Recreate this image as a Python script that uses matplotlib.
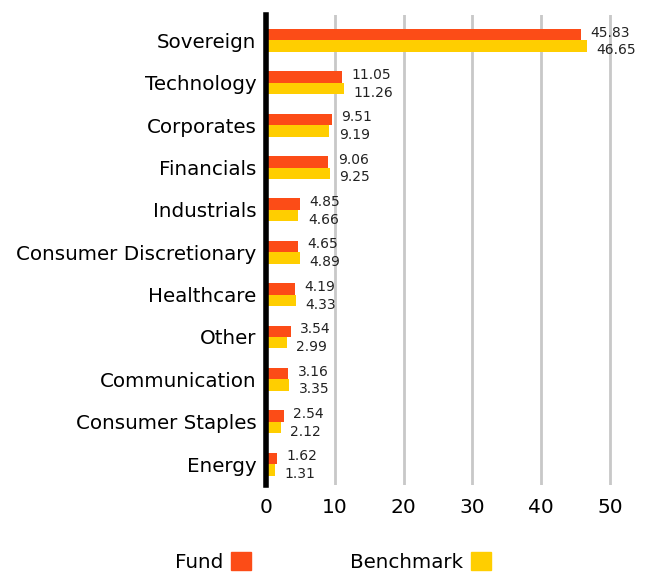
import numpy as np
import matplotlib.pyplot as plt
from matplotlib.patches import Patch

categories = ['Sovereign', 'Technology', 'Corporates', 'Financials', 'Industrials',
              'Consumer Discretionary', 'Healthcare', 'Other', 'Communication',
              'Consumer Staples', 'Energy']
fund = [45.83, 11.05, 9.51, 9.06, 4.85, 4.65, 4.19, 3.54, 3.16, 2.54, 1.62]
benchmark = [46.65, 11.26, 9.19, 9.25, 4.66, 4.89, 4.33, 2.99, 3.35, 2.12, 1.31]

fund_color = '#fc4c17'
bench_color = '#ffce00'

fig = plt.figure(figsize=(6.54, 5.77), dpi=100)
ax = fig.add_axes([0.407, 0.159, 0.578, 0.815])

y = np.arange(len(categories))
h = 0.27
ax.barh(y - h / 2, fund, height=h, color=fund_color)
ax.barh(y + h / 2, benchmark, height=h, color=bench_color)

for i in range(len(categories)):
    ax.text(fund[i] + 1.4, y[i] - h / 2 - 0.05, f'{fund[i]:.2f}', va='center',
            ha='left', fontsize=10, color='#222222')
    ax.text(benchmark[i] + 1.4, y[i] + h / 2 + 0.1, f'{benchmark[i]:.2f}', va='center',
            ha='left', fontsize=10, color='#222222')

ax.set_xlim(0, 55)
ax.set_ylim(len(categories) - 0.5, -0.6)
ax.set_yticks(y)
ax.set_yticklabels(categories, fontsize=14.3)
ax.set_xticks([0, 10, 20, 30, 40, 50])
ax.tick_params(axis='x', labelsize=14.5, length=0, pad=9)
ax.tick_params(axis='y', length=0, pad=7)
ax.grid(axis='x', color='#c8c8c8', linewidth=2)
ax.set_axisbelow(True)
for s in ['top', 'right', 'bottom']:
    ax.spines[s].set_visible(False)
ax.spines['left'].set_linewidth(4)
ax.spines['left'].set_color('black')
ax.spines['left'].set_zorder(5)

handles = [Patch(color=fund_color), Patch(color=bench_color)]
fig.legend(handles, ['Fund', 'Benchmark'], loc='lower center', ncol=2,
           bbox_to_anchor=(0.509, -0.022), frameon=False, markerfirst=False,
           fontsize=14.3, handlelength=1.0, handleheight=1.0, handletextpad=0.4,
           columnspacing=5)

fig.savefig('out.png', dpi=100)
